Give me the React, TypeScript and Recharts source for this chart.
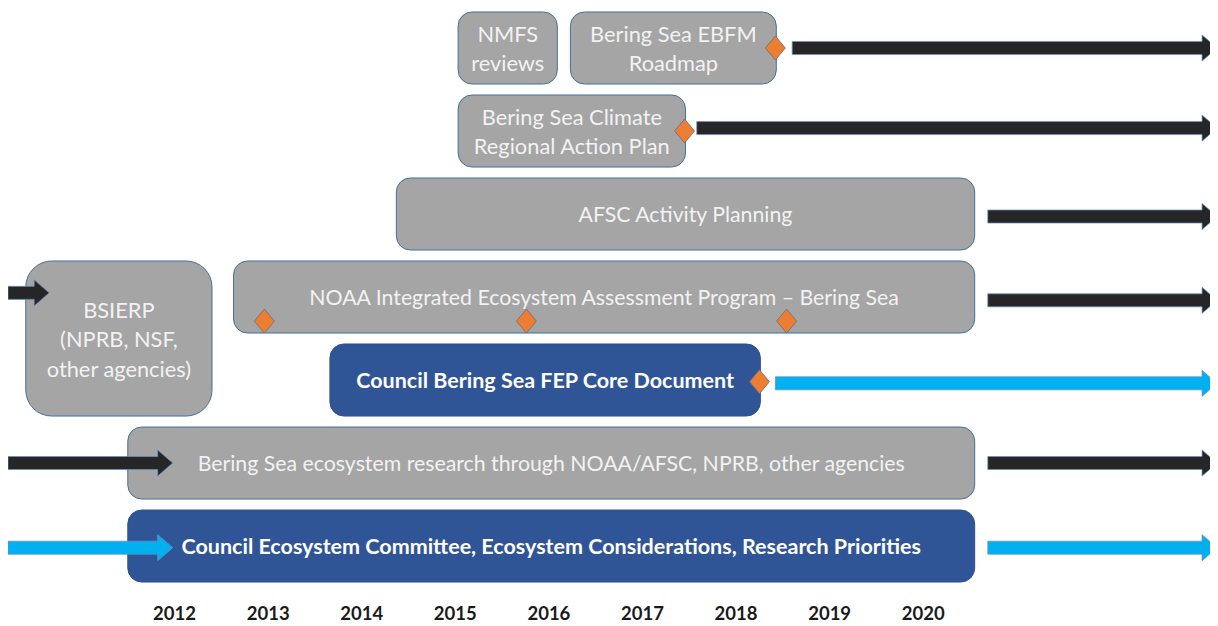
import React from 'react';
import { ComposedChart, XAxis, YAxis, ReferenceArea, Scatter } from 'recharts';

const FONT = 'Lato, "Open Sans", sans-serif';

const years = [2012, 2013, 2014, 2015, 2016, 2017, 2018, 2019, 2020];

// boxes: label lines, start/end year, top/bottom row, style
const boxLabels = [
  ['NMFS', 'reviews'],
  ['Bering Sea EBFM', 'Roadmap'],
  ['Bering Sea Climate', 'Regional Action Plan'],
  ['AFSC Activity Planning'],
  ['NOAA Integrated Ecosystem Assessment Program \u2013 Bering Sea'],
  ['Council Bering Sea FEP Core Document'],
  ['Bering Sea ecosystem research through NOAA/AFSC, NPRB, other agencies'],
  ['Council Ecosystem Committee, Ecosystem Considerations, Research Priorities'],
  ['BSIERP', '(NPRB, NSF,', 'other agencies)'],
];
const boxStart = [2015.03, 2016.23, 2015.03, 2014.37, 2012.63, 2013.66, 2011.5, 2011.5, 2010.41];
const boxEnd = [2016.09, 2018.43, 2017.46, 2020.55, 2020.55, 2018.26, 2020.55, 2020.55, 2012.4];
const boxRowFrom = [0, 0, 1, 2, 3, 4, 5, 6, 3];
const boxRowTo = [0, 0, 1, 2, 3, 4, 5, 6, 4];
const boxCouncil = [false, false, false, false, false, true, false, true, false];

// arrows
const arrowStart = [2018.6, 2017.58, 2020.69, 2020.69, 2018.42, 2020.69, 2020.69, 2010.22, 2010.22, 2010.22];
const arrowEnd = [2023.14, 2023.14, 2023.14, 2023.14, 2023.14, 2023.14, 2023.14, 2011.98, 2011.98, 2010.66];
const arrowRow = [0, 0.965, 2.03, 3.04, 4.04, 5.0, 6.02, 5.0, 6.02, 2.95];
const arrowCyan = [false, false, false, false, true, false, true, false, true, false];

// milestones (orange diamonds)
const milestoneYear = [2018.42, 2017.45, 2012.96, 2015.76, 2018.54, 2018.25];
const milestoneRow = [0, 1, 3.29, 3.29, 3.29, 4.02];

const milestones = milestoneYear.map((x, i) => ({ x, y: milestoneRow[i] }));

const HALF_BOX = 0.434;
const HALF_ARROW = 0.157;

function BoxShape(props: any) {
  const { x, y, width, height, lines, council, radius } = props;
  const cx = x + width / 2;
  const cy = y + height / 2;
  const lh = 29.5;
  const top = cy - ((lines.length - 1) * lh) / 2;
  const size = council ? 21.5 : lines.length > 1 ? 21.8 : 21.3;
  return (
    <g>
      <rect
        x={x}
        y={y}
        width={width}
        height={height}
        rx={radius}
        ry={radius}
        fill={council ? '#2F5597' : '#A5A5A5'}
        stroke={council ? '#2F528F' : '#41719C'}
        strokeWidth={1}
      />
      {lines.map((t: string, i: number) => (
        <text
          key={i}
          x={cx}
          y={top + i * lh}
          textAnchor="middle"
          dominantBaseline="central"
          fill={council ? '#FFFFFF' : '#F2F2F2'}
          fontFamily={FONT}
          fontSize={size}
          fontWeight={council ? 700 : 400}
        >
          {t}
        </text>
      ))}
    </g>
  );
}

function ArrowShape(props: any) {
  const { x, y, width, height, cyan } = props;
  const cy = y + height / 2;
  const sh = height / 4;
  const head = 15;
  const hx = x + width - head;
  const d = `M${x},${cy - sh} L${hx},${cy - sh} L${hx},${y} L${x + width},${cy} L${hx},${y + height} L${hx},${cy + sh} L${x},${cy + sh} Z`;
  return <path d={d} fill={cyan ? '#00B0F0' : '#262626'} stroke="#6F8FBF" strokeWidth={0.75} />;
}

function Diamond(props: any) {
  const { cx, cy } = props;
  const d = `M${cx},${cy - 12} L${cx + 10},${cy} L${cx},${cy + 12} L${cx - 10},${cy} Z`;
  return <path d={d} fill="#ED7D31" stroke="#5B6B8C" strokeWidth={0.75} />;
}

export default function App() {
  return (
    <ComposedChart width={1210} height={618} margin={{ top: 0, right: 0, bottom: 0, left: 0 }}>
      <XAxis
        type="number"
        dataKey="x"
        domain={[2010.22, 2023.15]}
        ticks={years}
        allowDataOverflow
        axisLine={false}
        tickLine={false}
        tickSize={0}
        tickMargin={12}
        height={31}
        interval={0}
        tick={{ fill: '#1A1A1A', fontSize: 18.5, fontWeight: 700, fontFamily: FONT }}
      />
      <YAxis type="number" dataKey="y" domain={[-0.482, 6.59]} reversed hide width={0} allowDataOverflow />
      {boxLabels.map((lines, i) => (
        <ReferenceArea
          key={'b' + i}
          x1={boxStart[i]}
          x2={boxEnd[i]}
          y1={boxRowFrom[i] - HALF_BOX}
          y2={boxRowTo[i] + HALF_BOX}
          ifOverflow="visible"
          shape={(p: any) => (
            <BoxShape {...p} lines={lines} council={boxCouncil[i]} radius={i === 8 ? 26 : 14} />
          )}
        />
      ))}
      {arrowStart.map((s, i) => (
        <ReferenceArea
          key={'a' + i}
          x1={s}
          x2={arrowEnd[i]}
          y1={arrowRow[i] - HALF_ARROW}
          y2={arrowRow[i] + HALF_ARROW}
          ifOverflow="visible"
          shape={(p: any) => <ArrowShape {...p} cyan={arrowCyan[i]} />}
        />
      ))}
      <Scatter data={milestones} shape={(p: any) => <Diamond {...p} />} isAnimationActive={false} />
    </ComposedChart>
  );
}
